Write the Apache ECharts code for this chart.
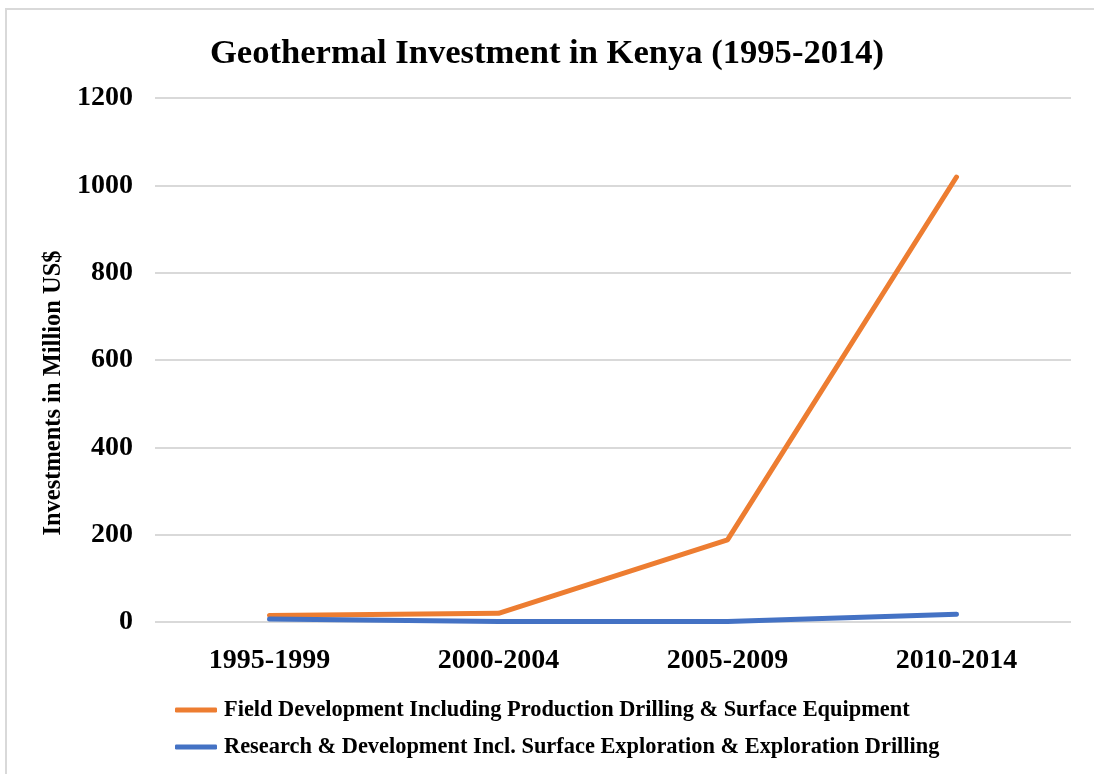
<!DOCTYPE html>
<html>
<head>
<meta charset="utf-8">
<title>Geothermal Investment in Kenya</title>
<script src="https://cdn.jsdelivr.net/npm/echarts@6/dist/echarts.min.js"></script>
<style>
    html, body { margin: 0; padding: 0; background: #fff; overflow: hidden; width: 1094px; height: 774px; }
    #chart { width: 1094px; height: 774px; position: relative; }
    .frame {
        position: absolute; left: 5px; top: 8px; width: 1300px; height: 1000px;
        border-top: 2px solid #d9d9d9; border-left: 2px solid #d9d9d9;
        pointer-events: none;
    }
</style>
</head>
<body>
<div id="chart"></div>
<div class="frame"></div>
<script>
// 数据
const periods = ['1995-1999', '2000-2004', '2005-2009', '2010-2014'];
const fieldDev = [15, 20, 188, 1019];
const researchDev = [7, 1, 1, 18];
const yTicks = [0, 200, 400, 600, 800, 1000, 1200];

const seriesNames = [
    'Field Development Including Production Drilling & Surface Equipment',
    'Research & Development Incl. Surface Exploration & Exploration Drilling'
];
const colors = ['#ed7d31', '#4472c4'];

const font = 'Liberation Serif';
const chart = echarts.init(document.getElementById('chart'));
chart.setOption({
    animation: false,
    title: {
        text: 'Geothermal Investment in Kenya (1995-2014)',
        left: 'center',
        top: 32,
        padding: [5, 0, 5, 8],
        textStyle: { fontFamily: font, fontWeight: 'bold', fontSize: 34.6, color: '#000' }
    },
    legend: {
        orient: 'vertical',
        left: 170,
        top: 694,
        itemGap: 15,
        itemWidth: 42,
        itemHeight: 5,
        icon: 'roundRect',
        data: seriesNames,
        textStyle: { fontFamily: font, fontWeight: 'bold', fontSize: 22.4, color: '#000', padding: [0, 0, 0, 2] }
    },
    grid: { left: 155, right: 23, top: 98, bottom: 152 },
    xAxis: {
        type: 'category',
        data: periods,
        axisLine: { show: false },
        axisTick: { show: false },
        axisLabel: { fontFamily: font, fontWeight: 'bold', fontSize: 28, color: '#000', margin: 25 }
    },
    yAxis: {
        type: 'value',
        min: yTicks[0],
        max: yTicks[yTicks.length - 1],
        interval: 200,
        name: 'Investments in Million US$',
        nameLocation: 'middle',
        nameGap: 83,
        nameTextStyle: {
            fontFamily: font, fontWeight: 'bold', fontSize: 24.5, color: '#000',
            padding: [0, 66, 0, 0]
        },
        axisLabel: {
            fontFamily: font, fontWeight: 'bold', fontSize: 28, color: '#000', margin: 22,
            formatter: (v) => String(v)
        },
        splitLine: { lineStyle: { color: '#d9d9d9', width: 2 } }
    },
    series: [
        {
            name: seriesNames[0], type: 'line', data: fieldDev, symbol: 'none',
            lineStyle: { color: colors[0], width: 5, cap: 'round' }, itemStyle: { color: colors[0] }
        },
        {
            name: seriesNames[1], type: 'line', data: researchDev, symbol: 'none',
            lineStyle: { color: colors[1], width: 5, cap: 'round' }, itemStyle: { color: colors[1] }
        }
    ]
});
</script>
</body>
</html>
